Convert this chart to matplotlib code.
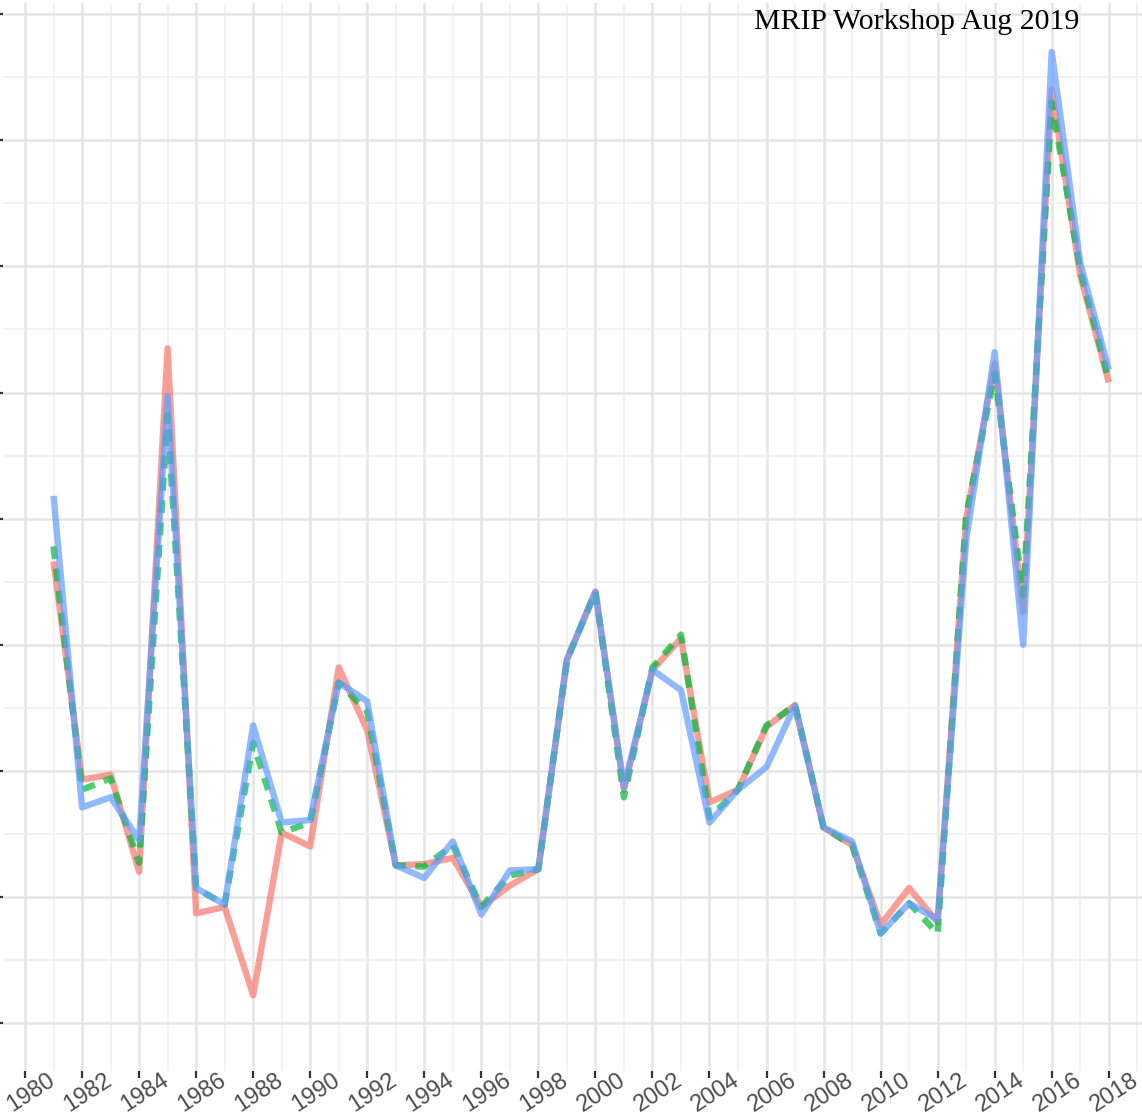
import numpy as np
import matplotlib
matplotlib.use('Agg')
from matplotlib import pyplot as plt
from matplotlib.ticker import MultipleLocator

# values (y axis has no labels, one unit = one major gridline)
years = list(range(1981, 2019))

red = [3.66, 1.93, 1.97, 1.20, 5.35, 0.87, 0.92, 0.22, 1.51, 1.40,
       2.82, 2.32, 1.25, 1.26, 1.31, 0.92, 1.09, 1.22, 2.88, 3.42,
       1.85, 2.80, 3.05, 1.75, 1.85, 2.35, 2.52, 1.55, 1.41, 0.78,
       1.07, 0.80, 4.00, 5.23, 3.26, 7.40, 5.93, 5.08]

green = [3.78, 1.85, 1.94, 1.27, 4.82, 1.07, 0.94, 2.22, 1.51, 1.59,
         2.70, 2.47, 1.25, 1.24, 1.41, 0.92, 1.17, 1.22, 2.88, 3.42,
         1.79, 2.82, 3.08, 1.63, 1.85, 2.36, 2.52, 1.55, 1.41, 0.71,
         0.95, 0.71, 4.03, 5.15, 3.39, 7.30, 5.97, 5.10]

blue = [4.18, 1.71, 1.79, 1.45, 4.97, 1.07, 0.94, 2.36, 1.59, 1.61,
        2.70, 2.55, 1.25, 1.15, 1.44, 0.86, 1.21, 1.22, 2.88, 3.42,
        1.87, 2.80, 2.64, 1.59, 1.85, 2.03, 2.52, 1.55, 1.44, 0.71,
        0.95, 0.82, 3.83, 5.32, 3.00, 7.70, 6.03, 5.18]

xticks = list(range(1980, 2019, 2))
note = 'MRIP Workshop Aug 2019'

W, H = 1142, 1117
fig = plt.figure(figsize=(W / 100, H / 100), dpi=100)
# panel from x=3px to the right edge, y=3px to 1071px
ax = fig.add_axes([3 / W, 1 - 1071 / H, 1 - 3 / W, (1071 - 3) / H])

lw = 4.6
ax.plot(years, red, color='#F8766D', alpha=0.7, lw=lw,
        solid_joinstyle='round', solid_capstyle='butt', zorder=3)
ax.plot(years, green, color='#00BA38', alpha=0.7, lw=lw, dashes=(2.0, 1.5),
        dash_joinstyle='round', dash_capstyle='butt', zorder=4)
ax.plot(years, blue, color='#619CFF', alpha=0.7, lw=lw,
        solid_joinstyle='round', solid_capstyle='butt', zorder=5)

ax.set_xlim(1980 + (3 - 25) / 28.52, 1980 + (1142 - 25) / 28.52)
ax.set_ylim((1023 - 1071) / 126.1, (1023 - 3) / 126.1)

ax.xaxis.set_major_locator(MultipleLocator(2))
ax.xaxis.set_minor_locator(MultipleLocator(1))
ax.yaxis.set_major_locator(MultipleLocator(1))
ax.yaxis.set_minor_locator(MultipleLocator(0.5))
ax.set_xticks(xticks)
ax.set_xticklabels([str(y) for y in xticks], rotation=33, ha='center', va='top',
                   rotation_mode='anchor', fontsize=17, color='#4D4D4D',
                   family='Liberation Sans')
ax.set_yticklabels([])

ax.grid(which='major', color='#E5E5E5', lw=1.8, zorder=0)
ax.grid(which='minor', color='#F0F0F0', lw=1.2, zorder=0)
ax.set_axisbelow(True)
for s in ax.spines.values():
    s.set_visible(False)
ax.tick_params(which='major', axis='x', length=5, width=1.6, color='#333333', pad=4)
ax.tick_params(which='major', axis='y', length=2.2, width=1.6, color='#333333')
ax.tick_params(which='minor', length=0)

fig.text(917 / W, 1 - 22 / H, note, ha='center', va='center',
         fontsize=21.5, family='Liberation Serif', color='black')

fig.savefig('out.png', dpi=100)
